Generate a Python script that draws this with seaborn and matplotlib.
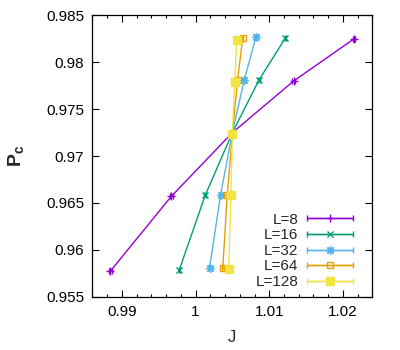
import numpy as np
import pandas as pd
import matplotlib
matplotlib.use("Agg")
import matplotlib.pyplot as plt
import seaborn as sns
from matplotlib.ticker import FuncFormatter, MultipleLocator
from matplotlib.container import ErrorbarContainer
from matplotlib.legend_handler import HandlerErrorbar

# values
labels = ["L=8", "L=16", "L=32", "L=64", "L=128"]
J_8 = [0.9884, 0.9967, 1.0050, 1.0133, 1.0215]
J_16 = [0.9978, 1.0013, 1.0050, 1.0086, 1.0122]
J_32 = [1.0019, 1.0034, 1.0050, 1.0066, 1.0082]
J_64 = [1.0037, 1.0043, 1.0050, 1.0057, 1.0064]
J_128 = [1.0045, 1.0048, 1.0050, 1.0053, 1.0056]
Pc_8 = [0.9577, 0.9657, 0.9725, 0.9780, 0.9825]
Pc_16 = [0.9579, 0.9658, 0.9725, 0.9781, 0.9826]
Pc_32 = [0.9581, 0.9659, 0.9725, 0.9781, 0.9827]
Pc_64 = [0.9581, 0.9659, 0.9724, 0.9781, 0.9826]
Pc_128 = [0.9580, 0.9658, 0.9724, 0.9779, 0.9824]
J_err = [0.0002, 0.0001, 0.0001, 0.0001, 0.0001]

J_all = [J_8, J_16, J_32, J_64, J_128]
Pc_all = [Pc_8, Pc_16, Pc_32, Pc_64, Pc_128]

colors = ["#9400d3", "#009e73", "#56b4e9", "#e69f00", "#f0e442"]
markers = ["+", "x", (8, 2, 0), "s", "s"]
msizes = [6, 5, 6, 5, 5.5]
filled = [True, True, True, False, True]

sns.set_style("ticks")
plt.rcParams['font.family'] = ['Liberation Sans', 'DejaVu Sans']
plt.rcParams['mathtext.fontset'] = 'custom'
plt.rcParams['mathtext.bf'] = 'Liberation Sans:bold'
plt.rcParams['mathtext.rm'] = 'Liberation Sans'

fig = plt.figure(figsize=(4, 3.5), dpi=100)
ax = fig.add_axes([0.231, 0.152, 0.70, 0.804])

handles = []
for lab, J, Pc, c, m, ms, f, e in zip(labels, J_all, Pc_all, colors, markers, msizes, filled, J_err):
    df = pd.DataFrame({"J": J, "Pc": Pc})
    mfc = c if f else "none"
    sns.lineplot(data=df, x="J", y="Pc", sort=False, estimator=None, color=c,
                 marker=m, ms=ms, mec=c, mfc=mfc, mew=1, lw=1, ax=ax, legend=False)
    ax.errorbar(J, Pc, xerr=e, fmt="none", ecolor=c, elinewidth=1, capsize=2.5)
    # proxy for the gnuplot-like legend sample
    h = ax.errorbar([np.nan], [np.nan], xerr=[0.001], fmt="-", marker=m, color=c, ms=ms,
                    mec=c, mfc=mfc, mew=1, lw=1, elinewidth=1, capsize=2.5, label=lab)
    handles.append(h)

ax.set_xlim(0.986, 1.024)
ax.set_ylim(0.955, 0.985)
ax.xaxis.set_major_locator(MultipleLocator(0.01))
ax.xaxis.set_minor_locator(MultipleLocator(0.002))
ax.yaxis.set_major_locator(MultipleLocator(0.005))
fmt = FuncFormatter(lambda v, p: "%g" % round(v, 4))
ax.xaxis.set_major_formatter(fmt)
ax.yaxis.set_major_formatter(fmt)
ax.tick_params(which="both", direction="in", top=True, right=True, width=0.8,
               labelsize=11, colors="black")
ax.tick_params(which="major", length=5, pad=6)
ax.tick_params(which="minor", length=2.5)
for s in ax.spines.values():
    s.set_linewidth(0.9)
    s.set_color("black")

ax.set_xlabel("J", fontsize=12, labelpad=8)
ax.set_ylabel(r"$\mathbf{P_c}$", fontsize=14, labelpad=14)

ax.legend(handles=handles, labels=labels, loc="lower right", frameon=False,
          markerfirst=False, fontsize=11, handlelength=3, labelspacing=0.1,
          handletextpad=0.6, borderaxespad=0.3, bbox_to_anchor=(0.97, -0.01),
          handler_map={ErrorbarContainer: HandlerErrorbar(xerr_size=1.5)})

fig.savefig("out.png", dpi=100)
